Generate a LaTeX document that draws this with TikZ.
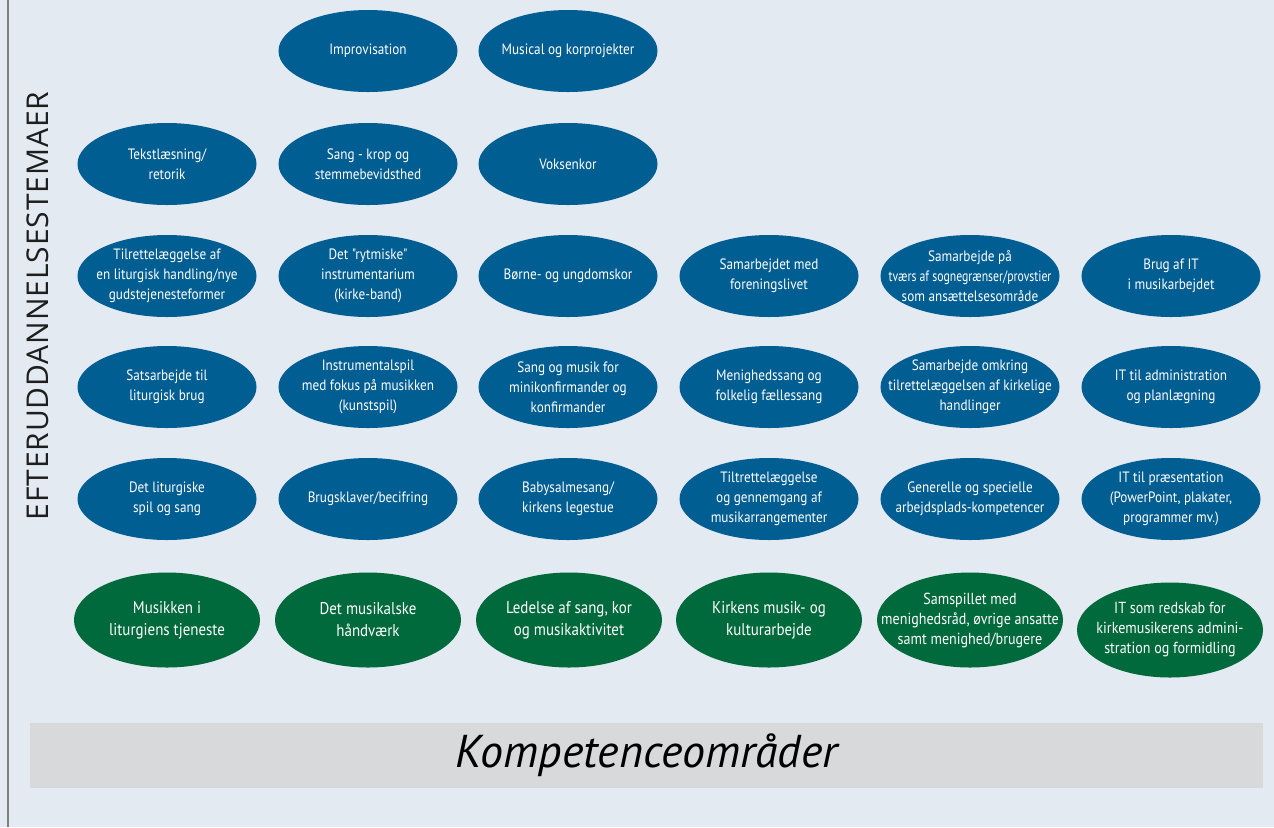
\documentclass[tikz,border=0pt]{standalone}
\usepackage{graphicx}
\usepackage{fontspec}
\setmainfont{PT Sans}
\newfontfamily\ovfont{PT Sans}[FakeStretch=0.88]
\newfontfamily\titlefont{Open Sans}[LetterSpace=3]
\usetikzlibrary{shapes.geometric}
\definecolor{bgc}{RGB}{227,234,242}
\definecolor{ovblue}{RGB}{0,94,146}
\definecolor{ovgreen}{RGB}{0,106,60}
\definecolor{barc}{RGB}{216,217,219}
\definecolor{linegray}{RGB}{128,128,128}
\definecolor{titlec}{RGB}{30,30,30}
\tikzset{
  blueov/.style={ellipse, fill=ovblue, draw=none, minimum width=89.5pt, minimum height=41pt, inner sep=0pt},
  greenov/.style={ellipse, fill=ovgreen, draw=none, minimum width=93pt, minimum height=47.5pt, inner sep=0pt},
  ovtext/.style={text=white, align=center, inner sep=0pt, font=\ovfont\fontsize{7.5}{10}\selectfont},
  gtext/.style={text=white, align=center, inner sep=0pt, font=\ovfont\fontsize{8.5}{11}\selectfont},
  gtextsmall/.style={text=white, align=center, inner sep=0pt, font=\ovfont\fontsize{8}{10}\selectfont},
}
\newcommand\bov[4]{\node[blueov] (#1) at (#2,#3) {}; \node[ovtext] (#1-t) at (#1.center) {#4};}
\newcommand\gov[5]{\node[greenov] (#1) at (#2,#3) {}; \node[#4] (#1-t) at (#1.center) {#5};}
\begin{document}
\begin{tikzpicture}[x=0.5pt,y=-0.5pt]
\useasboundingbox (0,0) rectangle (1274,827);
\fill[bgc] (0,0) rectangle (1274,827);
\coordinate (lt) at (8,0);
\coordinate (lb) at (8,827);
\draw[linegray, line width=1pt] (lt) -- (lb);
\node[rotate=90, text=titlec, inner sep=0pt, font=\titlefont\fontsize{15}{15}\selectfont] (title) at (38,306) {EFTERUDDANNELSESTEMAER};
% row 1
\bov{r1c2}{368}{51}{Improvisation}
\bov{r1c3}{568}{51}{Musical og korprojekter}
% row 2
\bov{r2c1}{167}{164}{Tekstlæsning/\\retorik}
\bov{r2c2}{368}{164}{Sang - krop og\\stemmebevidsthed}
\bov{r2c3}{568}{164}{Voksenkor}
% row 3
\bov{r3c1}{167}{276}{Tilrettelæggelse af\\en liturgisk handling/nye\\gudstejenesteformer}
\bov{r3c2}{368}{276}{Det "rytmiske"\\instrumentarium\\(kirke-band)}
\bov{r3c3}{568}{276}{Børne- og ungdomskor}
\bov{r3c4}{769}{276}{Samarbejdet med\\foreningslivet}
\bov{r3c5}{970}{276}{Samarbejde på\\\scalebox{0.89}[1]{tværs af sognegrænser/provstier}\\som ansættelsesområde}
\bov{r3c6}{1171}{276}{Brug af IT\\i musikarbejdet}
% row 4
\bov{r4c1}{167}{387}{Satsarbejde til\\liturgisk brug}
\bov{r4c2}{368}{387}{Instrumentalspil\\med fokus på musikken\\(kunstspil)}
\bov{r4c3}{568}{387}{Sang og musik for\\minikonfirmander og\\konfirmander}
\bov{r4c4}{769}{387}{Menighedssang og\\folkelig fællessang}
\bov{r4c5}{970}{387}{Samarbejde omkring\\tilrettelæggelsen af kirkelige\\handlinger}
\bov{r4c6}{1171}{387}{IT til administration\\og planlægning}
% row 5
\bov{r5c1}{167}{499}{Det liturgiske\\spil og sang}
\bov{r5c2}{368}{499}{Brugsklaver/becifring}
\bov{r5c3}{568}{499}{Babysalmesang/\\kirkens legestue}
\bov{r5c4}{769}{499}{Tiltrettelæggelse\\og gennemgang af\\musikarrangementer}
\bov{r5c5}{970}{499}{Generelle og specielle\\arbejdsplads-kompetencer}
\bov{r5c6}{1171}{499}{IT til præsentation\\(PowerPoint, plakater,\\programmer mv.)}
% green row
\gov{g1}{167}{620}{gtext}{Musikken i\\liturgiens tjeneste}
\gov{g2}{368}{620}{gtext}{Det musikalske\\håndværk}
\gov{g3}{569}{620}{gtext}{Ledelse af sang, kor\\og musikaktivitet}
\gov{g4}{769}{620}{gtext}{Kirkens musik- og\\kulturarbejde}
\gov{g5}{970}{620}{gtextsmall}{Samspillet med\\menighedsråd, øvrige ansatte\\samt menighed/brugere}
\gov{g6}{1170}{630}{gtextsmall}{IT som redskab for\\kirkemusikerens admini-\\stration og formidling}
% bar
\node[fill=barc, minimum width=616.5pt, minimum height=32.5pt, inner sep=0pt, font=\fontsize{23}{23}\selectfont\itshape, text=black] (bar) at (646.5,755.5) {Kompetenceområder};
\end{tikzpicture}
\end{document}
